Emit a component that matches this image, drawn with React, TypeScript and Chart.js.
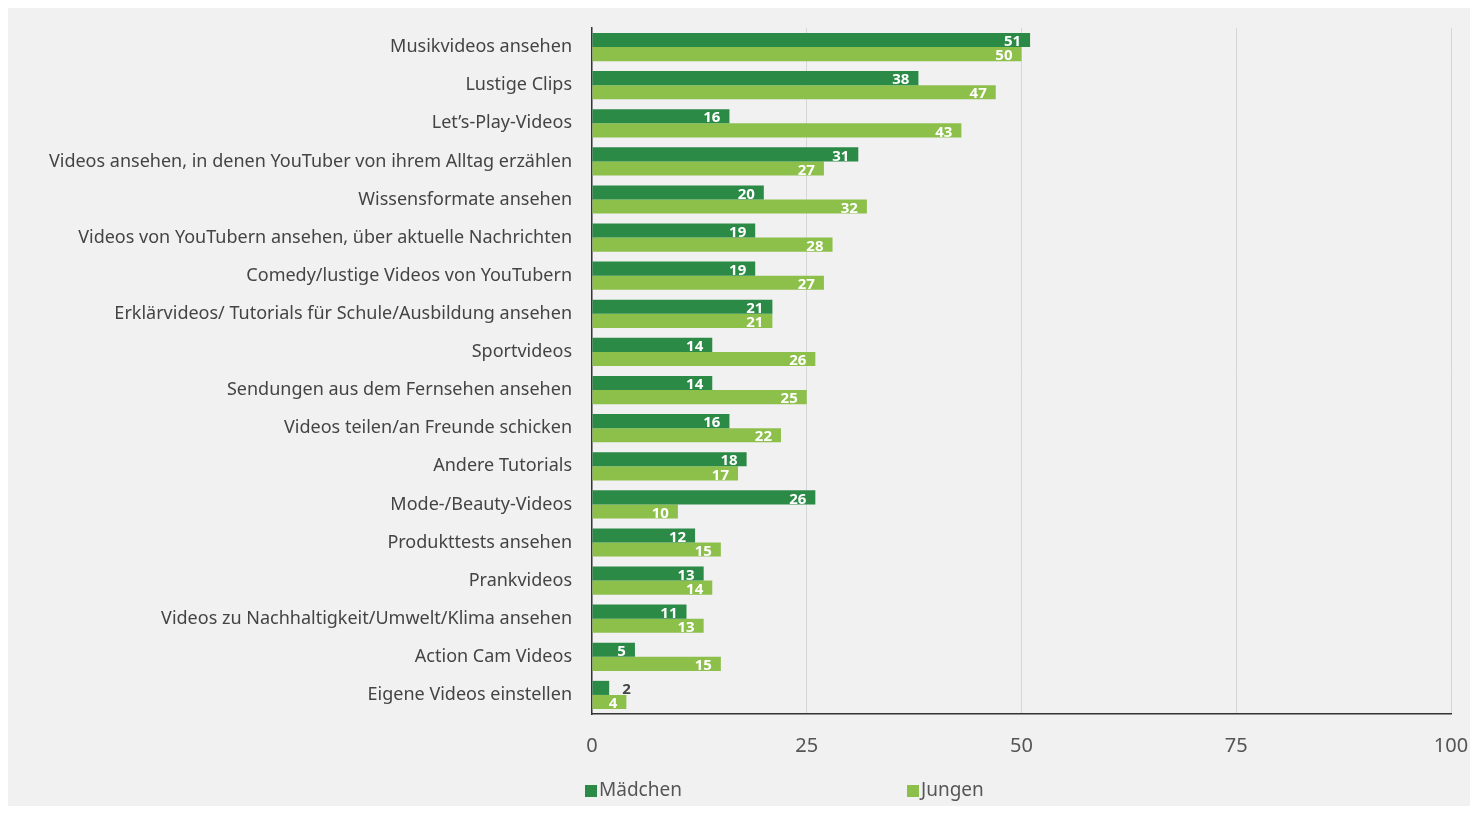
import React, { useEffect, useRef } from "react";
import { Chart, registerables } from "chart.js";

Chart.register(...registerables);

const categories = [
  "Musikvideos ansehen",
  "Lustige Clips",
  "Let’s-Play-Videos",
  "Videos ansehen, in denen YouTuber von ihrem Alltag erzählen",
  "Wissensformate ansehen",
  "Videos von YouTubern ansehen, über aktuelle Nachrichten",
  "Comedy/lustige Videos von YouTubern",
  "Erklärvideos/ Tutorials für Schule/Ausbildung ansehen",
  "Sportvideos",
  "Sendungen aus dem Fernsehen ansehen",
  "Videos teilen/an Freunde schicken",
  "Andere Tutorials",
  "Mode-/Beauty-Videos",
  "Produkttests ansehen",
  "Prankvideos",
  "Videos zu Nachhaltigkeit/Umwelt/Klima ansehen",
  "Action Cam Videos",
  "Eigene Videos einstellen",
];

const maedchen = [51, 38, 16, 31, 20, 19, 19, 21, 14, 14, 16, 18, 26, 12, 13, 11, 5, 2];
const jungen = [50, 47, 43, 27, 32, 28, 27, 21, 26, 25, 22, 17, 10, 15, 14, 13, 15, 4];

const seriesNames = ["Mädchen", "Jungen"];
const seriesColors = ["#2b8a46", "#8dc04b"];
const xTicks = [0, 25, 50, 75, 100];

const FONT = "'Noto Sans', 'Open Sans', sans-serif";

const valueLabelPlugin = {
  id: "valueLabels",
  afterDatasetsDraw(chart: any) {
    const ctx = chart.ctx;
    ctx.save();
    ctx.font = `bold 15px ${FONT}`;
    ctx.textBaseline = "middle";
    chart.data.datasets.forEach((ds: any, di: number) => {
      const meta = chart.getDatasetMeta(di);
      meta.data.forEach((bar: any, i: number) => {
        const v = ds.data[i];
        const txt = String(v);
        const w = ctx.measureText(txt).width;
        const barLen = bar.x - bar.base;
        const y = bar.y + 2;
        if (barLen < w + 10) {
          ctx.fillStyle = "#444";
          ctx.textAlign = "left";
          ctx.fillText(txt, bar.x + 13, y);
        } else {
          ctx.fillStyle = "#ffffff";
          ctx.textAlign = "right";
          ctx.fillText(txt, bar.x - 9, y);
        }
      });
    });
    ctx.restore();
  },
};

const legendPlugin = {
  id: "customLegend",
  afterDraw(chart: any) {
    const ctx = chart.ctx;
    const left = chart.chartArea.left;
    const y = 783;
    const positions = [left - 7, left + 315];
    ctx.save();
    ctx.font = `19px ${FONT}`;
    ctx.textBaseline = "middle";
    ctx.textAlign = "left";
    seriesNames.forEach((name, i) => {
      const x = positions[i];
      ctx.fillStyle = seriesColors[i];
      ctx.fillRect(x, y - 6, 12, 12);
      ctx.fillStyle = "#555";
      ctx.fillText(name, x + 14, y);
    });
    ctx.restore();
  },
};

export default function App() {
  const canvasRef = useRef<HTMLCanvasElement | null>(null);

  useEffect(() => {
    if (!canvasRef.current) return;
    const chart = new Chart(canvasRef.current, {
      type: "bar",
      data: {
        labels: categories,
        datasets: [
          {
            label: seriesNames[0],
            data: maedchen,
            backgroundColor: seriesColors[0],
            barPercentage: 1,
            categoryPercentage: 0.74,
          },
          {
            label: seriesNames[1],
            data: jungen,
            backgroundColor: seriesColors[1],
            barPercentage: 1,
            categoryPercentage: 0.74,
          },
        ],
      },
      options: {
        indexAxis: "y",
        animation: false,
        responsive: true,
        maintainAspectRatio: false,
        layout: { padding: { left: 0, right: 27, top: 20, bottom: 0 } },
        plugins: {
          legend: { display: false },
          tooltip: { enabled: false },
        },
        scales: {
          x: {
            min: 0,
            max: 100,
            afterBuildTicks: (scale: any) => {
              scale.ticks = xTicks.map((v) => ({ value: v }));
            },
            afterFit: (scale: any) => {
              scale.height = 92;
              scale.paddingLeft = 0;
              scale.paddingRight = 0;
            },
            grid: {
              drawTicks: false,
              color: (c: any) => (c.tick && c.tick.value === 0 ? "rgba(0,0,0,0)" : "#d6d6d6"),
              lineWidth: 1,
            },
            border: { display: true, color: "#333", width: 1.5 },
            ticks: {
              padding: 20,
              color: "#555",
              font: { size: 20, family: FONT },
              maxRotation: 0,
            },
          },
          y: {
            afterFit: (scale: any) => {
              scale.width = 584;
              scale.paddingTop = 0;
              scale.paddingBottom = 0;
            },
            grid: { display: false, drawTicks: false },
            border: { display: true, color: "#333", width: 1.5 },
            ticks: {
              padding: 20,
              color: "#444",
              font: { size: 18, family: FONT },
              autoSkip: false,
            },
          },
        },
      },
      plugins: [valueLabelPlugin, legendPlugin],
    } as any);
    return () => chart.destroy();
  }, []);

  return (
    <div
      style={{
        width: 1470,
        height: 798,
        background: "#f1f1f1",
        boxShadow: "0 0 4px rgba(0,0,0,0.12)",
        position: "relative",
      }}
    >
      <canvas ref={canvasRef} />
    </div>
  );
}
